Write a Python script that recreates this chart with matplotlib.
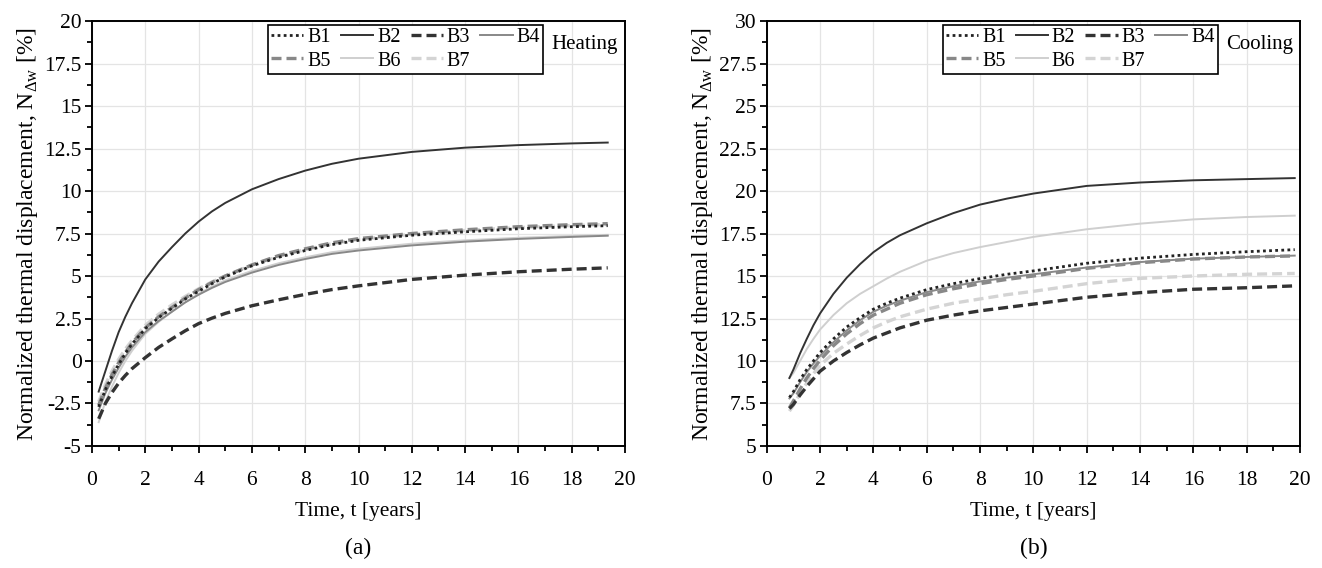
import matplotlib
matplotlib.use("Agg")
import matplotlib.pyplot as plt
from matplotlib.ticker import MultipleLocator

plt.rcParams['font.family'] = ['Liberation Serif', 'DejaVu Serif']
plt.rcParams['mathtext.fontset'] = 'custom'
plt.rcParams['mathtext.rm'] = 'Liberation Serif'
plt.rcParams['axes.unicode_minus'] = False

# Heating (a)
t_heat = [0.25, 0.5, 0.75, 1, 1.25, 1.5, 2, 2.5, 3, 3.5, 4, 4.5, 5, 6, 7, 8, 9, 10, 12, 14, 16, 18, 19.35]
heat_b1 = [-2.7, -1.7, -0.9, -0.2, 0.45, 1.0, 1.9, 2.55, 3.1, 3.65, 4.1, 4.55, 4.95, 5.6, 6.1, 6.5, 6.85, 7.1, 7.4, 7.6, 7.78, 7.9, 7.96]
heat_b2 = [-1.8, -0.6, 0.6, 1.7, 2.6, 3.4, 4.8, 5.85, 6.7, 7.5, 8.2, 8.8, 9.3, 10.1, 10.7, 11.2, 11.6, 11.9, 12.3, 12.55, 12.7, 12.8, 12.85]
heat_b3 = [-3.4, -2.5, -1.85, -1.3, -0.85, -0.45, 0.2, 0.8, 1.3, 1.78, 2.2, 2.52, 2.8, 3.25, 3.6, 3.92, 4.2, 4.42, 4.8, 5.05, 5.25, 5.4, 5.48]
heat_b4 = [-2.9, -1.9, -1.1, -0.4, 0.25, 0.8, 1.7, 2.35, 2.9, 3.45, 3.9, 4.3, 4.65, 5.2, 5.65, 6.0, 6.3, 6.5, 6.8, 7.02, 7.18, 7.3, 7.37]
heat_b5 = [-2.6, -1.6, -0.8, -0.1, 0.5, 1.05, 1.95, 2.6, 3.15, 3.7, 4.2, 4.62, 5.0, 5.65, 6.2, 6.6, 6.95, 7.2, 7.5, 7.72, 7.9, 8.02, 8.08]
heat_b6 = [-3.6, -2.4, -1.5, -0.7, 0.0, 0.6, 1.6, 2.3, 2.9, 3.45, 3.95, 4.38, 4.75, 5.3, 5.75, 6.1, 6.4, 6.6, 6.9, 7.1, 7.25, 7.36, 7.42]
heat_b7 = [-2.4, -1.4, -0.6, 0.1, 0.7, 1.2, 2.1, 2.75, 3.3, 3.8, 4.25, 4.65, 5.0, 5.65, 6.15, 6.55, 6.9, 7.15, 7.45, 7.68, 7.85, 7.97, 8.03]

# Cooling (b)
t_cool = [0.85, 1, 1.25, 1.5, 1.75, 2, 2.5, 3, 3.5, 4, 4.5, 5, 6, 7, 8, 9, 10, 12, 14, 16, 18, 19.8]
cool_b1 = [7.85, 8.2, 8.9, 9.5, 10.0, 10.5, 11.3, 12.0, 12.55, 13.05, 13.4, 13.7, 14.2, 14.55, 14.85, 15.1, 15.3, 15.75, 16.05, 16.27, 16.43, 16.55]
cool_b2 = [9.0, 9.5, 10.45, 11.3, 12.1, 12.8, 13.95, 14.9, 15.7, 16.4, 16.95, 17.4, 18.1, 18.7, 19.2, 19.55, 19.85, 20.3, 20.5, 20.63, 20.7, 20.76]
cool_b3 = [7.2, 7.45, 8.0, 8.5, 8.95, 9.4, 10.0, 10.5, 10.95, 11.35, 11.65, 11.95, 12.4, 12.7, 12.95, 13.15, 13.35, 13.75, 14.02, 14.22, 14.31, 14.42]
cool_b4 = [7.8, 8.1, 8.75, 9.35, 9.85, 10.3, 11.1, 11.8, 12.4, 12.9, 13.25, 13.55, 14.05, 14.4, 14.68, 14.9, 15.1, 15.5, 15.82, 16.02, 16.12, 16.2]
cool_b5 = [7.25, 7.65, 8.35, 9.0, 9.55, 10.05, 10.9, 11.6, 12.2, 12.7, 13.05, 13.4, 13.9, 14.25, 14.55, 14.8, 15.0, 15.45, 15.78, 16.0, 16.12, 16.18]
cool_b6 = [9.0, 9.3, 10.0, 10.7, 11.3, 11.85, 12.7, 13.4, 13.95, 14.4, 14.85, 15.25, 15.9, 16.35, 16.7, 17.0, 17.3, 17.75, 18.08, 18.33, 18.47, 18.55]
cool_b7 = [7.05, 7.4, 8.1, 8.7, 9.25, 9.75, 10.45, 11.0, 11.5, 11.95, 12.3, 12.6, 13.05, 13.4, 13.65, 13.9, 14.1, 14.55, 14.86, 15.0, 15.1, 15.15]

names = ["B1", "B2", "B3", "B4", "B5", "B6", "B7"]
styles = [
    dict(color='#222222', ls=(0, (1, 1.2)), lw=2.0, zorder=9),
    dict(color='#333333', ls='-', lw=1.4, zorder=8),
    dict(color='#333333', ls=(0, (3, 1.5)), lw=2.4, zorder=7),
    dict(color='#888888', ls='-', lw=1.4, zorder=6),
    dict(color='#888888', ls=(0, (3, 1.5)), lw=2.4, zorder=5),
    dict(color='#cfcfcf', ls='-', lw=1.4, zorder=4),
    dict(color='#d4d4d4', ls=(0, (3, 1.5)), lw=2.4, zorder=3),
]
# legend filled row by row: B1 B2 B3 B4 / B5 B6 B7
leg_order = [0, 4, 1, 5, 2, 6, 3]

fig = plt.figure(figsize=(13.22, 5.68), dpi=100)
ax1 = fig.add_axes([0.0696, 0.2148, 0.4032, 0.7482])
ax2 = fig.add_axes([0.5800, 0.2148, 0.4034, 0.7482])


def draw(ax, t, series, ylim, label, tag):
    lines = []
    for name, vals, st in zip(names, series, styles):
        lines += ax.plot(t, vals, label=name, **st)
    ax.set_xlim(0, 20)
    ax.set_ylim(*ylim)
    ax.xaxis.set_major_locator(MultipleLocator(2))
    ax.xaxis.set_minor_locator(MultipleLocator(1))
    ax.yaxis.set_major_locator(MultipleLocator(2.5))
    ax.yaxis.set_minor_locator(MultipleLocator(1.25))
    ax.yaxis.set_major_formatter(plt.FuncFormatter(lambda v, p: f"{v:g}"))
    ax.grid(True, which='major', color='#e4e4e4', lw=0.9)
    ax.set_axisbelow(True)
    ax.tick_params(which='both', direction='out', labelsize=15.5, width=1.3)
    ax.tick_params(which='major', length=5)
    ax.tick_params(which='minor', length=3.5)
    ax.tick_params(axis='x', which='major', pad=13)
    ax.tick_params(axis='y', which='major', pad=2.5)
    for s in ax.spines.values():
        s.set_linewidth(1.4)
        s.set_color('black')
    ax.set_xlabel("Time, t [years]", fontsize=15.5, labelpad=9)
    ax.set_ylabel(r"Normalized thermal displacement, N$_{\mathregular{\Delta w}}$ [%]", fontsize=17, labelpad=3)
    leg = ax.legend([lines[i] for i in leg_order], [names[i] for i in leg_order],
                    loc='upper left', bbox_to_anchor=(0.33, 0.99), ncol=4, fontsize=14.5,
                    frameon=True, fancybox=False, edgecolor='black', framealpha=1,
                    handlelength=1.6, handletextpad=0.2, columnspacing=0.5,
                    labelspacing=0.2, borderpad=0.15, borderaxespad=0)
    leg.get_frame().set_linewidth(1.2)
    ax.text(0.862, 0.944, label, transform=ax.transAxes, fontsize=15, va='center', ha='left')
    pos = ax.get_position()
    fig.text(pos.x0 + pos.width / 2, 0.035, tag, fontsize=17, ha='center', va='center')


draw(ax1, t_heat, [heat_b1, heat_b2, heat_b3, heat_b4, heat_b5, heat_b6, heat_b7], (-5, 20), "Heating", "(a)")
draw(ax2, t_cool, [cool_b1, cool_b2, cool_b3, cool_b4, cool_b5, cool_b6, cool_b7], (5, 30), "Cooling", "(b)")

fig.savefig("out.png", dpi=100)
